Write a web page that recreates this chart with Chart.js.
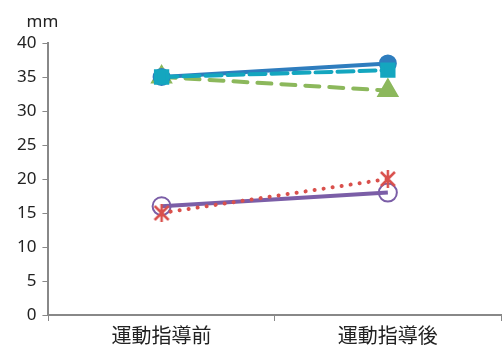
<!DOCTYPE html>
<html>
<head>
<meta charset="utf-8">
<script src="https://cdn.jsdelivr.net/npm/chart.js@4"></script>
<style>
  html, body { margin: 0; padding: 0; background: #fff; }
  #wrap { width: 502px; height: 353px; }
</style>
</head>
<body>
<div id="wrap"><canvas id="lineChart"></canvas></div>
<script>
const labels = ["運動指導前", "運動指導後"];
const seriesBlue = [35, 37];
const seriesTeal = [35, 36];
const seriesGreen = [35, 33];
const seriesRed = [15, 20];
const seriesPurple = [16, 18];
const yTicks = [0, 5, 10, 15, 20, 25, 30, 35, 40];
const unitLabel = "mm";

// Excel style star marker: an X with a vertical bar
const makeStar = (color) => {
  const c = document.createElement("canvas");
  c.width = 20;
  c.height = 20;
  const g = c.getContext("2d");
  g.strokeStyle = color;
  g.lineWidth = 2.5;
  g.beginPath();
  g.moveTo(3, 3); g.lineTo(17, 17);
  g.moveTo(17, 3); g.lineTo(3, 17);
  g.moveTo(10, 1); g.lineTo(10, 19);
  g.stroke();
  return c;
};

const unitPlugin = {
  id: "unitPlugin",
  afterDraw(chart) {
    const ctx = chart.ctx;
    const y = chart.scales.y;
    ctx.save();
    ctx.fillStyle = "#222";
    ctx.font = "17px 'Noto Sans', sans-serif";
    ctx.textAlign = "center";
    ctx.textBaseline = "alphabetic";
    ctx.fillText(unitLabel, y.right - 6, y.top - 16);
    ctx.restore();
  },
};

const ctx = document.getElementById("lineChart");
new Chart(ctx, {
  type: "line",
  data: {
    labels: labels,
    datasets: [
      {
        label: "a",
        data: seriesBlue,
        borderColor: "#2E7DBE",
        backgroundColor: "#2E7DBE",
        borderWidth: 4,
        pointStyle: "circle",
        pointRadius: 7,
        tension: 0,
        order: 1,
      },
      {
        label: "b",
        data: seriesTeal,
        borderColor: "#14A6BF",
        backgroundColor: "#14A6BF",
        borderWidth: 4,
        borderDash: [16, 6],
        borderCapStyle: "round",
        pointStyle: "rect",
        pointRadius: 8,
        tension: 0,
        order: 0,
      },
      {
        label: "c",
        data: seriesGreen,
        borderColor: "#8CB85C",
        backgroundColor: "#8CB85C",
        borderWidth: 4,
        borderDash: [14, 10],
        borderCapStyle: "round",
        pointStyle: "triangle",
        pointRadius: 9,
        tension: 0,
        order: 2,
      },
      {
        label: "d",
        data: seriesRed,
        borderColor: "#D9504C",
        backgroundColor: "#D9504C",
        borderWidth: 4,
        borderDash: [0.1, 9],
        borderCapStyle: "round",
        pointStyle: makeStar("#D9504C"),
        tension: 0,
        order: 3,
      },
      {
        label: "e",
        data: seriesPurple,
        borderColor: "#7B5EA7",
        backgroundColor: "rgba(255,255,255,0)",
        borderWidth: 4,
        pointStyle: "circle",
        pointRadius: 9,
        pointBorderWidth: 2,
        tension: 0,
        order: 4,
      },
    ],
  },
  options: {
    responsive: true,
    maintainAspectRatio: false,
    animation: false,
    layout: {
      autoPadding: false,
      padding: { top: 43, right: 1, left: 11, bottom: 4 },
    },
    plugins: {
      legend: { display: false },
      tooltip: { enabled: false },
    },
    scales: {
      x: {
        offset: true,
        afterFit: (axis) => {
          axis.paddingLeft = 0;
          axis.paddingRight = 0;
        },
        grid: {
          offset: true,
          drawOnChartArea: false,
          drawTicks: true,
          tickLength: 6,
          color: "#888",
        },
        border: { color: "#888", width: 2 },
        ticks: {
          color: "#222",
          font: { family: "'Noto Sans CJK JP'", size: 20 },
          padding: 2,
        },
      },
      y: {
        min: 0,
        max: 40,
        afterBuildTicks: (axis) => {
          axis.ticks = yTicks.map((v) => ({ value: v }));
        },
        grid: {
          drawOnChartArea: false,
          drawTicks: true,
          tickLength: 6,
          color: "#888",
        },
        border: { color: "#888", width: 2 },
        ticks: {
          color: "#222",
          font: { family: "'Noto Sans'", size: 17 },
          padding: 6,
        },
      },
    },
  },
  plugins: [unitPlugin],
});
</script>
</body>
</html>
